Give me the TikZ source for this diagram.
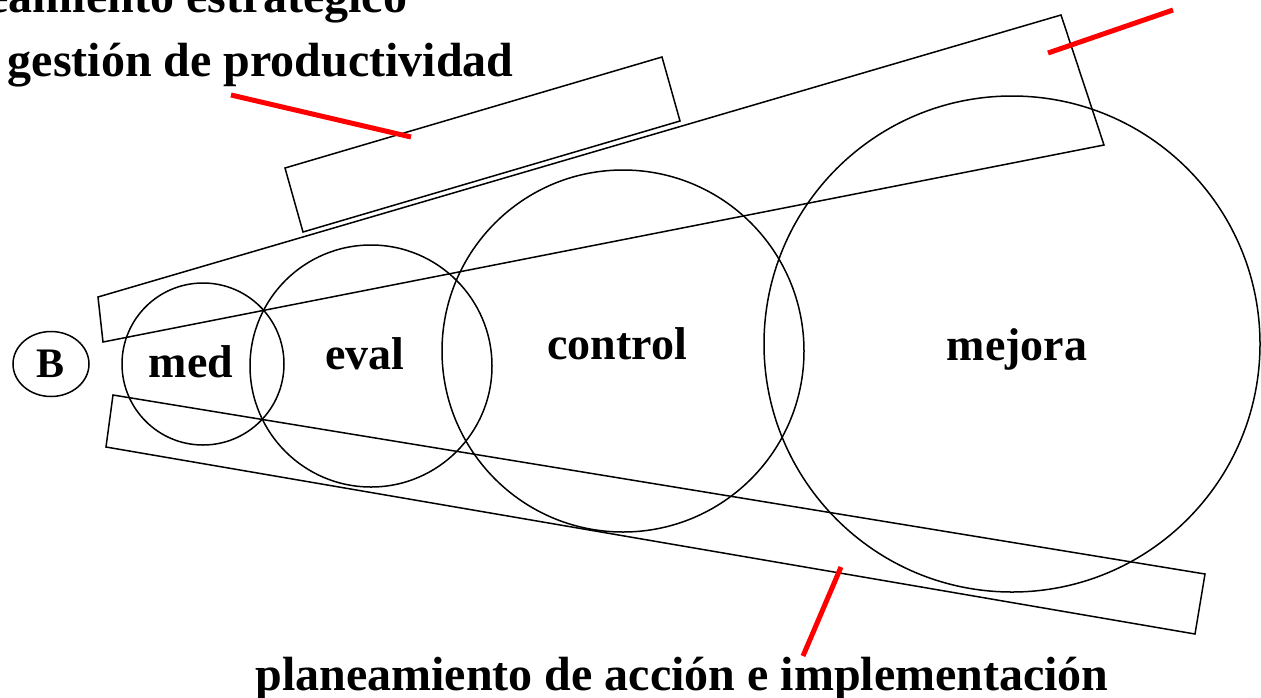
\documentclass[tikz,border=0pt]{standalone}
\usepackage{fontspec}
\setmainfont{Liberation Serif}
\usetikzlibrary{shapes.geometric}
\tikzset{
  ring/.style={circle, draw=black, line width=1.5pt, inner sep=0pt},
  tag/.style={font=\fontsize{46}{50}\selectfont\bfseries, anchor=base, inner sep=0pt},
  caption/.style={font=\fontsize{48}{52}\selectfont\bfseries, inner sep=0pt},
  pointer/.style={red, line width=5pt}
}
\begin{document}
\begin{tikzpicture}[x=1pt, y=-1pt, line width=1.5pt]
                \useasboundingbox (0,0) rectangle (1261,697);
                % wedge, bands
                \draw (98,297) -- (1061,15) -- (1104,145) -- (103,342) -- cycle;
                \draw (285,168) -- (662,57) -- (680,121) -- (303,232) -- cycle;
                \draw (113,395) -- (1205,574) -- (1195,634) -- (106,447) -- cycle;
                % stages
                \node[ring, minimum size=162pt] (med) at (203,364) {};
                \node[ring, minimum size=242pt] (eval) at (371,366) {};
                \node[ring, minimum size=362pt] (control) at (623,351) {};
                \node[ring, minimum size=496pt] (mejora) at (1012,344) {};
                \node[ellipse, draw=black, minimum width=76pt, minimum height=65pt, inner sep=0pt,
                      font=\fontsize{42}{44}\selectfont\bfseries] (b) at (51,364) {B};
                \node[tag] (tmed) at (191,377) {med};
                \node[tag] (teval) at (365,369) {eval};
                \node[tag] (tcontrol) at (617,359) {control};
                \node[tag] (tmejora) at (1017,360) {mejora};
                % captions
                \node[caption, anchor=base east] (plan) at (408,12) {planeamiento estratégico};
                \node[caption, anchor=base west] (gest) at (7,76) {gestión de productividad};
                \node[caption, anchor=base] (accion) at (682,690) {planeamiento de acción e implementación};
                % pointers
                \coordinate (p1) at (231,95);
                \coordinate (q1) at (411,137);
                \coordinate (p2) at (1173,10);
                \coordinate (q2) at (1048,53);
                \coordinate (p3) at (803,656);
                \coordinate (q3) at (841,567);
                \draw[pointer] (p1) -- (q1);
                \draw[pointer] (p2) -- (q2);
                \draw[pointer] (p3) -- (q3);
\end{tikzpicture}
\end{document}
